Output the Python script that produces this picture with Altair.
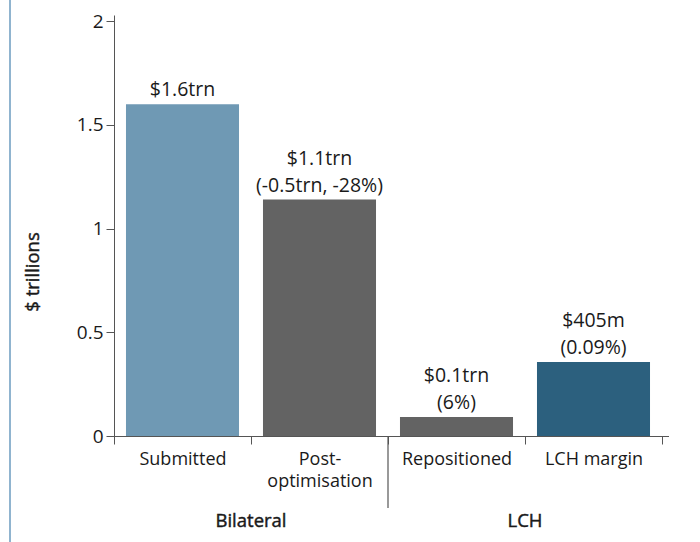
import altair as alt
import pandas as pd

categories = ["Submitted", "Post-optimisation", "Repositioned", "LCH margin"]
values = [1.6, 1.14, 0.092, 0.357]
label_top = ["", "$1.1trn", "$0.1trn", "$405m"]
label_bottom = ["$1.6trn", "(-0.5trn, -28%)", "(6%)", "(0.09%)"]
colors = ["#6f99b4", "#636363", "#636363", "#2c607e"]
groups = ["Bilateral", "LCH"]
y_title = "$ trillions"
y_ticks = [0, 0.5, 1, 1.5, 2]

FONT = "Open Sans"
W, H = 548, 421
LEFT, TOP = 114, 15
AXIS_COLOR = "#555555"
TEXT_COLOR = "#1a1a1a"

df = pd.DataFrame({"cat": categories, "value": values, "top": label_top,
                   "bottom": label_bottom, "color": colors})

label_expr = "datum.value == 'Post-optimisation' ? ['Post-', 'optimisation'] : datum.value"

x = alt.X(
    "cat:N",
    sort=categories,
    scale=alt.Scale(paddingInner=0, paddingOuter=0),
    axis=alt.Axis(
        title=None, labelAngle=0, labelExpr=label_expr, tickBand="extent",
        tickSize=8, labelPadding=6, labelFont=FONT, labelFontSize=18,
        labelColor=TEXT_COLOR, domainColor=AXIS_COLOR, tickColor=AXIS_COLOR,
        labelLineHeight=22, labelBaseline="top",
    ),
)
y = alt.Y(
    "value:Q",
    scale=alt.Scale(domain=[0, 2.03], nice=False, zero=True),
    axis=alt.Axis(
        title=None, values=y_ticks, labelExpr="format(datum.value, '~g')",
        grid=False, tickSize=8, labelPadding=3, labelFont=FONT, labelFontSize=19,
        labelColor=TEXT_COLOR, domainColor=AXIS_COLOR, tickColor=AXIS_COLOR,
    ),
)

bars = alt.Chart(df).mark_bar(width=alt.RelativeBandSize(0.825)).encode(
    x=x, y=y, color=alt.Color("color:N", scale=None)
)

text_common = dict(baseline="alphabetic", font=FONT, fontSize=19.5, color=TEXT_COLOR)
text_bottom = alt.Chart(df).mark_text(dy=-8, **text_common).encode(
    x=alt.X("cat:N", sort=categories), y="value:Q", text="bottom:N"
)
text_top = alt.Chart(df).mark_text(dy=-35, **text_common).encode(
    x=alt.X("cat:N", sort=categories), y="value:Q", text="top:N"
)

divider = alt.Chart(pd.DataFrame({"k": [0]})).mark_rule(color=AXIS_COLOR, strokeWidth=1.2).encode(
    x=alt.value(W / 2), y=alt.value(H), y2=alt.value(H + 72)
)

axis_ext = alt.Chart(pd.DataFrame({"k": [0]})).mark_rule(color=AXIS_COLOR, strokeWidth=1).encode(
    x=alt.value(-2), x2=alt.value(W + 7), y=alt.value(H + 0.5)
)

left_line = alt.Chart(pd.DataFrame({"k": [0]})).mark_rule(color="#6b9bbf", strokeWidth=1.5).encode(
    x=alt.value(10 - LEFT), y=alt.value(-TOP), y2=alt.value(542 - TOP)
)

medium = dict(font=FONT, fontSize=18.5, color=TEXT_COLOR, stroke=TEXT_COLOR,
              strokeWidth=0.45, baseline="middle", align="center")

title_txt = alt.Chart(pd.DataFrame({"t": [y_title]})).mark_text(angle=270, **medium).encode(
    x=alt.value(33 - LEFT), y=alt.value(272 - TOP), text="t:N"
)

g1 = alt.Chart(pd.DataFrame({"g": [groups[0]]})).mark_text(**medium).encode(
    x=alt.value(W / 4), y=alt.value(H + 85), text="g:N"
)
g2 = alt.Chart(pd.DataFrame({"g": [groups[1]]})).mark_text(**medium).encode(
    x=alt.value(3 * W / 4), y=alt.value(H + 85), text="g:N"
)

chart = alt.layer(bars, text_bottom, text_top, divider, axis_ext, left_line,
                  title_txt, g1, g2).properties(
    width=W, height=H,
    autosize=alt.AutoSizeParams(type="none"),
    padding={"left": LEFT, "top": TOP, "right": 700 - LEFT - W, "bottom": 542 - TOP - H},
).configure(background="white", view=alt.ViewConfig(stroke=None))

chart.save("out.html", embed_options={"renderer": "svg", "actions": False})
